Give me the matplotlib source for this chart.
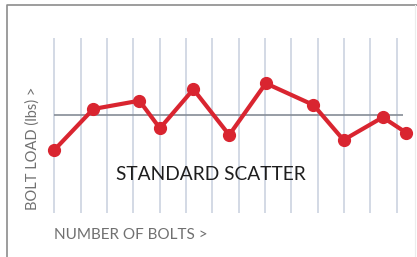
import matplotlib
matplotlib.use("Agg")
import matplotlib.pyplot as plt

# Data (x in bolt index units, y relative load)
bolt_pos = [0, 1.48, 3.23, 4.01, 5.28, 6.64, 8.03, 9.84, 10.98, 12.47, 13.36]
bolt_load = [-35, 6, 14.3, -13.3, 25.7, -20, 31.7, 10, -25, -2.3, -17.7]
grid_x = list(range(14))
mean_load = 0

title_text = "STANDARD SCATTER"
xlabel_text = "NUMBER OF BOLTS >"
ylabel_text = "BOLT LOAD (lbs) >"

W, H = 417, 257
fig = plt.figure(figsize=(W / 100, H / 100), dpi=100)
fig.patch.set_facecolor("white")

# frame
frame = fig.add_axes([0, 0, 1, 1])
frame.set_xlim(0, W)
frame.set_ylim(H, 0)
frame.axis("off")
frame.plot([7, 7, W], [H, 5, 5], color="#8c8c8c", lw=1.2, solid_capstyle="butt")
frame.plot([415.5, 415.5], [5, H], color="#ececec", lw=0.8)

unit = 26.34
x0 = 54.3
xmin, xmax = -0.5, 13.6
left_px = x0 + xmin * unit
right_px = x0 + xmax * unit
top_px, bot_px = 38, 213
ax = fig.add_axes([left_px / W, 1 - bot_px / H, (right_px - left_px) / W, (bot_px - top_px) / H])
ax.set_xlim(xmin, xmax)
ax.set_ylim(-98, 77)
ax.patch.set_alpha(0)
for s in ax.spines.values():
    s.set_visible(False)
ax.set_xticks(grid_x)
ax.set_yticks([])
ax.tick_params(axis="x", length=0, labelbottom=False)
ax.grid(axis="x", color="#d0d7e3", lw=1.3)
ax.hlines(mean_load, 0, 13.24, color="#858c96", lw=1.2, zorder=2)
ax.plot(bolt_pos, bolt_load, color="#d92530", lw=3.0, marker="o", ms=8.5,
        mfc="#d92530", mec="#d92530", zorder=3, clip_on=False)

fig.text(211 / W, 1 - 174 / H, title_text, ha="center", va="center",
         fontsize=13.8, family="Lato", color="#1e1e1e")
fig.text(54 / W, 1 - 235 / H, xlabel_text, ha="left", va="center",
         fontsize=11, family="Lato", color="#707070")
fig.text(33 / W, 1 - 148 / H, ylabel_text, ha="center", va="center", rotation=90,
         fontsize=10.5, family="Lato", color="#707070")

fig.savefig("out.png", dpi=100)
